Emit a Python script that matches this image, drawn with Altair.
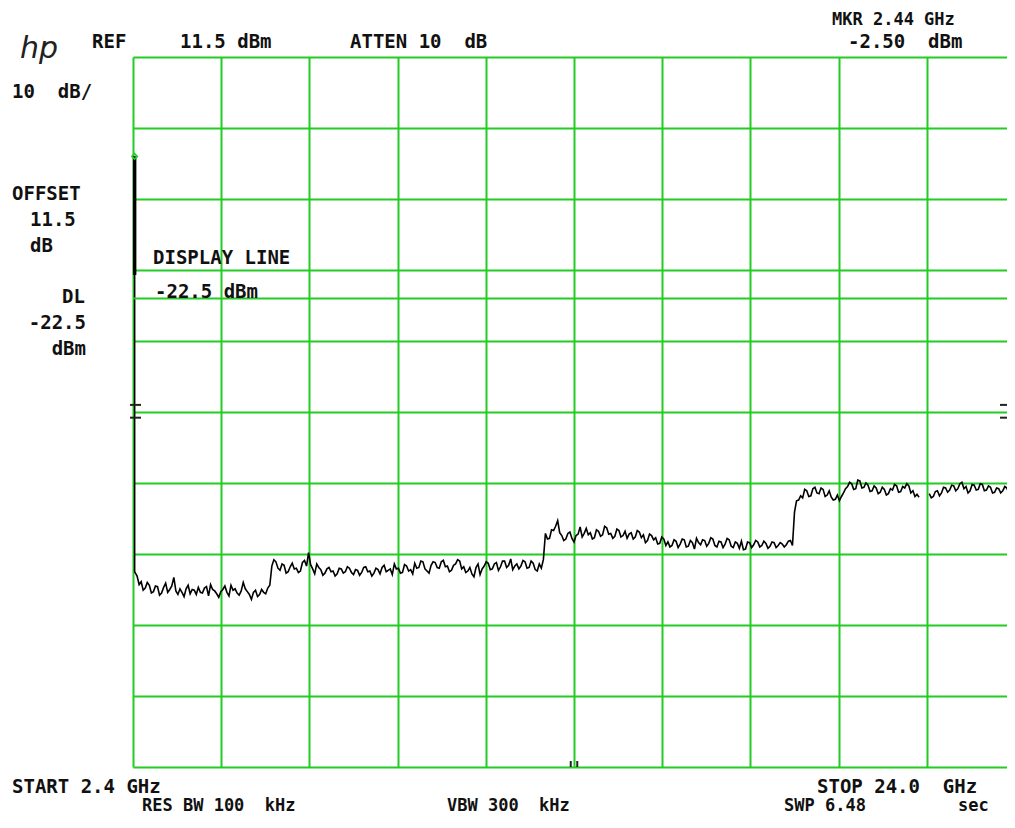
import altair as alt
import numpy as np
import pandas as pd

# ---------------- data ----------------
START_GHZ = 2.4
STOP_GHZ = 24.0
REF_DBM = 11.5
DB_PER_DIV = 10
DISPLAY_LINE = -22.5
MARKER_F = 2.44
MARKER_DBM = -2.50

# sweep grid (GHz) for the noise floor: 2.50 .. 24.00 GHz every 0.05 GHz
sweep_f = [round(v, 2) for v in np.linspace(2.5, 24.0, 431)]

seg1_dbm = [  # 2.50 .. 5.75
    -61.6, -62.8, -62.4, -63.6, -63.3, -62.5, -62.9, -64.0, -63.8, -63.0,
    -63.1, -64.3, -64.0, -63.2, -62.6, -63.9, -63.5, -63.0, -61.8, -63.7,
    -64.2, -63.4, -63.9, -64.5, -63.4, -62.9, -64.1, -63.5, -63.6, -64.2,
    -63.2, -63.9, -64.0, -63.3, -63.1, -64.4, -62.8, -63.5, -63.7, -64.1,
    -64.6, -63.8, -63.5, -63.0, -63.9, -64.4, -62.9, -63.6, -63.4, -64.0,
    -64.3, -63.7, -62.5, -63.4, -63.8, -64.2, -64.9, -63.9, -63.6, -64.5,
    -64.2, -63.5, -63.9, -64.1, -63.3, -62.9,
]
seg2_dbm = [  # 5.80 .. 12.45
    -60.2, -59.3, -59.6, -60.5, -60.8, -59.9, -60.1, -61.2, -61.0, -60.3,
    -59.8, -60.6, -60.5, -61.1, -60.9, -59.7, -59.4, -60.2, -58.3, -60.0,
    -60.6, -61.3, -59.9, -60.4, -60.7, -61.5, -61.2, -60.6, -60.4, -61.0,
    -60.9, -61.6, -61.3, -60.5, -60.6, -61.2, -61.0, -60.3, -60.5, -61.1,
    -61.4, -60.7, -60.8, -61.5, -61.1, -60.4, -60.3, -61.0, -60.9, -61.6,
    -61.2, -60.5, -60.7, -61.3, -60.4, -60.1, -61.0, -60.8, -60.6, -61.4,
    -59.9, -60.6, -60.5, -61.2, -61.1, -60.0, -60.2, -60.9, -60.7, -61.3,
    -59.8, -60.5, -60.4, -59.5, -59.6, -60.6, -60.9, -61.2, -60.1, -59.6,
    -59.7, -60.4, -60.5, -59.6, -59.4, -60.3, -60.2, -61.0, -60.8, -60.1,
    -59.9, -59.3, -59.5, -60.6, -60.3, -61.1, -60.9, -60.4, -61.3, -61.7,
    -60.4, -59.9, -61.4, -60.6, -60.2, -59.6, -59.8, -60.7, -60.6, -59.9,
    -59.7, -60.8, -60.3, -59.5, -59.5, -60.4, -60.1, -59.2, -60.7, -60.2,
    -59.9, -60.6, -60.2, -59.4, -59.6, -60.5, -60.4, -59.5, -59.8, -60.7,
    -60.9, -59.9, -60.5, -59.3,
]
seg3_dbm = [  # 12.50 .. 18.55
    -55.6, -56.4, -56.3, -55.1, -55.2, -54.6, -53.8, -55.5, -55.9, -56.6,
    -56.4, -55.6, -55.4, -56.3, -56.8, -55.9, -55.7, -54.7, -56.1, -55.6,
    -54.9, -55.8, -55.5, -56.4, -56.2, -55.1, -55.3, -56.0, -55.8, -54.6,
    -54.8, -55.7, -55.6, -56.3, -56.0, -55.0, -55.2, -56.1, -55.9, -55.3,
    -56.3, -55.7, -55.5, -56.4, -56.1, -55.2, -55.4, -56.2, -55.8, -56.9,
    -56.6, -55.7, -55.9, -56.5, -56.2, -57.1, -57.0, -56.1, -56.4, -57.3,
    -56.8, -57.5, -57.3, -56.5, -56.7, -57.6, -57.1, -56.4, -56.5, -57.5,
    -57.4, -56.6, -56.9, -57.8, -56.3, -56.9, -57.2, -56.5, -56.6, -57.4,
    -57.0, -56.2, -56.4, -57.3, -57.5, -56.7, -56.8, -57.6, -57.1, -56.3,
    -56.5, -57.4, -57.6, -56.8, -57.0, -57.7, -56.7, -57.9, -57.8, -56.8,
    -56.9, -57.6, -57.2, -56.6, -56.8, -57.5, -57.3, -56.7, -57.0, -57.7,
    -57.4, -56.8, -56.9, -57.6, -57.3, -56.9, -57.1, -57.5, -57.2, -56.7,
    -56.6, -57.3,
]
step_dbm = [-52.6, -51.0, -50.9, -50.3, -50.6, -49.4]  # 18.60 .. 18.85
seg4_dbm = [  # 18.90 .. 21.65
    -49.6, -50.4, -50.3, -49.3, -49.1, -49.9, -50.0, -49.2, -49.4, -50.4,
    -50.2, -49.6, -50.5, -50.9, -50.8, -50.2, -51.0, -50.4, -49.9, -49.3,
    -49.0, -48.4, -48.6, -49.4, -49.3, -48.1, -48.2, -49.2, -49.1, -48.5,
    -48.8, -49.7, -49.6, -48.9, -49.2, -50.0, -49.8, -49.1, -49.4, -50.2,
    -50.0, -49.3, -49.5, -48.7, -48.9, -49.8, -49.7, -49.0, -49.2, -48.6,
    -48.9, -49.9, -49.6, -50.4, -50.1, -50.5,
]
gap_dbm = [None, None, None, None]  # 21.70 .. 21.85
seg5_dbm = [  # 21.90 .. 24.00
    -50.0, -50.6, -50.4, -49.7, -49.6, -50.3, -49.9, -49.1, -49.2, -49.8,
    -49.5, -48.8, -48.9, -49.6, -49.3, -48.6, -48.4, -49.3, -49.0, -49.9,
    -49.6, -48.7, -48.8, -49.5, -49.4, -48.6, -48.7, -49.6, -49.5, -48.9,
    -49.1, -49.9, -49.8, -49.2, -49.3, -49.9, -49.6, -49.0, -49.2, -50.0,
    -49.7, -49.2, -49.4,
]
trace_dbm = seg1_dbm + seg2_dbm + seg3_dbm + step_dbm + seg4_dbm + gap_dbm + seg5_dbm

# LO feedthrough spike at the marker
spike_f = [2.44, 2.44, 2.47]
spike_dbm = [MARKER_DBM, -61.0, -61.3]
spike_thick_dbm = [MARKER_DBM, -19.2]

# threshold tick marks at the screen edges (dBm)
edge_ticks_dbm = [-37.5, -39.3]
# center-frequency marker (GHz)
center_ticks_f = [13.12, 13.28]

# grid
x_grid = [round(START_GHZ + k * (STOP_GHZ - START_GHZ) / 10, 3) for k in range(10)]
y_grid = [REF_DBM - DB_PER_DIV * k for k in range(11)]

# ---------------- tables ----------------
rows = []
seg = 0
for f, v in zip(spike_f, spike_dbm):
    rows.append({"f": f, "dbm": v, "seg": 0, "i": len(rows)})
for f, v in zip(sweep_f, trace_dbm):
    if v is None:
        seg = 1
        continue
    rows.append({"f": f, "dbm": v, "seg": seg, "i": len(rows)})
trace_df = pd.DataFrame(rows)

# full screen is 882 px wide for 21.6 GHz; the page shows the first 874 px of it
FULL_W = 882
W, H = 874, 710
X_MAX = START_GHZ + (STOP_GHZ - START_GHZ) * W / FULL_W
GREEN = "#22cc22"
FONT = "DejaVu Sans Mono"

xscale = alt.Scale(domain=[START_GHZ, X_MAX], nice=False, zero=False)
yscale = alt.Scale(domain=[REF_DBM - 10 * DB_PER_DIV, REF_DBM], nice=False, zero=False)

grid_axis = dict(grid=True, gridColor=GREEN, gridWidth=2, gridOpacity=1,
                 labels=False, ticks=False, domain=False, title=None)

base = alt.Chart(trace_df)

trace = base.mark_line(interpolate="linear", color="black", strokeWidth=1.6).encode(
    x=alt.X("f:Q", scale=xscale, axis=alt.Axis(values=x_grid, **grid_axis)),
    y=alt.Y("dbm:Q", scale=yscale, axis=alt.Axis(values=y_grid, **grid_axis)),
    detail="seg:N",
    order="i:Q",
)

dl = alt.Chart(pd.DataFrame({"dbm": [DISPLAY_LINE]})).mark_rule(
    color=GREEN, strokeWidth=2
).encode(y=alt.Y("dbm:Q", scale=yscale))

thick = alt.Chart(pd.DataFrame({"f": [MARKER_F], "a": [spike_thick_dbm[0]], "b": [spike_thick_dbm[1]]})).mark_rule(
    color="black", strokeWidth=3.5
).encode(
    x=alt.X("f:Q", scale=xscale),
    y=alt.Y("a:Q", scale=yscale),
    y2="b:Q",
)

marker = alt.Chart(pd.DataFrame({"f": [MARKER_F], "dbm": [MARKER_DBM]})).mark_point(
    shape="diamond", size=30, color=GREEN, strokeWidth=1.5, filled=False, opacity=1
).encode(x=alt.X("f:Q", scale=xscale), y=alt.Y("dbm:Q", scale=yscale))

edge_df = pd.DataFrame({"dbm": edge_ticks_dbm})
edge_left = alt.Chart(edge_df).mark_rule(color="#222222", strokeWidth=2).encode(
    y=alt.Y("dbm:Q", scale=yscale), x=alt.value(-3), x2=alt.value(8)
)
edge_right = alt.Chart(edge_df).mark_rule(color="#222222", strokeWidth=2).encode(
    y=alt.Y("dbm:Q", scale=yscale), x=alt.value(W - 7), x2=alt.value(W + 2)
)
center_df = pd.DataFrame({"f": center_ticks_f})
center = alt.Chart(center_df).mark_rule(color="#222222", strokeWidth=2).encode(
    x=alt.X("f:Q", scale=xscale), y=alt.value(H - 6), y2=alt.value(H)
)

NB = "\u00a0"
# (text, x, y, align, size) — positions relative to the plot's top-left corner
annotations = [
    ("REF", -41, -15, "left", 19),
    ("11.5 dBm", 47, -15, "left", 19),
    ("ATTEN 10" + NB + NB + "dB", 217, -15, "left", 19),
    ("MKR 2.44 GHz", 699, -37, "left", 17),
    ("-2.50" + NB + NB + "dBm", 715, -15, "left", 19),
    ("10" + NB + NB + "dB/", -121, 35, "left", 19),
    ("OFFSET", -121, 137, "left", 19),
    ("11.5", -103, 163, "left", 19),
    ("dB", -103, 189, "left", 19),
    ("DL", -48, 240, "right", 19),
    ("-22.5", -47, 266, "right", 19),
    ("dBm", -47, 292, "right", 19),
    ("DISPLAY LINE", 20, 201, "left", 19),
    ("-22.5 dBm", 22, 235, "left", 19),
    ("START 2.4 GHz", -121, 730, "left", 19),
    ("RES BW 100" + NB + NB + "kHz", 9, 749, "left", 17),
    ("VBW 300" + NB + NB + "kHz", 314, 749, "left", 17),
    ("STOP 24.0" + NB + NB + "GHz", 684, 730, "left", 19),
    ("SWP 6.48", 651, 749, "left", 17),
    ("sec", 825, 749, "left", 17),
]

text_layers = []
for txt, tx, ty, al, fs in annotations:
    text_layers.append(
        alt.Chart(pd.DataFrame({"t": [txt]})).mark_text(
            font=FONT, fontWeight="bold", fontSize=fs, color="#111111",
            align=al, baseline="middle"
        ).encode(text="t:N", x=alt.value(tx), y=alt.value(ty))
    )

logo = alt.Chart(pd.DataFrame({"t": ["hp"]})).mark_text(
    font="DejaVu Sans", fontStyle="italic", fontSize=30, color="#222222",
    align="left", baseline="middle"
).encode(text="t:N", x=alt.value(-113), y=alt.value(-8))

chart = alt.layer(
    trace, dl, thick, edge_left, edge_right, center, marker, logo, *text_layers
).properties(
    width=W, height=H,
    padding={"left": 125, "top": 49, "right": 0, "bottom": 48},
    autosize=alt.AutoSizeParams(type="none"),
    background="white",
).configure_view(strokeWidth=0)

chart.save("out.html", embed_options={"renderer": "svg", "actions": False})
